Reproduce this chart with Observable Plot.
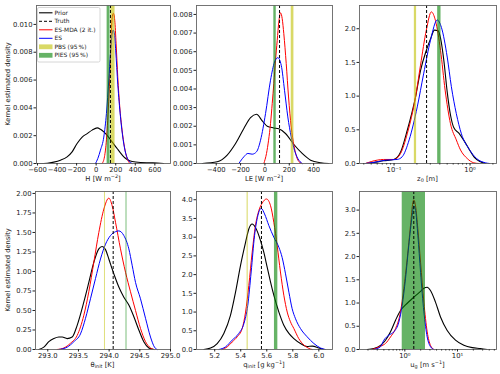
<!DOCTYPE html>
<html><head><meta charset="utf-8">
<script src="https://cdn.jsdelivr.net/npm/d3@7"></script>
<script src="https://cdn.jsdelivr.net/npm/@observablehq/plot@0.6"></script>
<style>
body{margin:0;background:#fff;}
#fig{position:relative;width:500px;height:374px;font-family:"DejaVu Sans",sans-serif;color:#222;overflow:hidden;background:#fff;}
.pan{position:absolute;}
.xl{position:absolute;font-size:6.8px;white-space:nowrap;transform:translate(-50%,-50%);line-height:1;}
.yl{position:absolute;font-size:6.7px;white-space:nowrap;transform:translate(-50%,-50%) rotate(-90deg);line-height:1;}
sup{font-size:72%;vertical-align:0;position:relative;top:-0.45em;}
sub{font-size:72%;vertical-align:0;position:relative;top:0.3em;}
</style></head><body><div id="fig"></div>
<script>
// ---------- DATA ----------
// Panel H [W m-2]
const hPrior = [[-587,0],[-501,0.00002],[-433,0.0001],[-365,0.00024],[-297,0.00048],[-246,0.00084],[-195,0.00144],[-143,0.0019],[-92,0.00215],[-41,0.0024],[10,0.00256],[44,0.00246],[78,0.00227],[112,0.00203],[146,0.00172],[180,0.00139],[214,0.00108],[248,0.00077],[283,0.00048],[317,0.00029],[368,0.00014],[453,0.00007],[555,0.00005],[657,0.00002],[690,0]];
const hMDA = [[61,0],[85,0.00048],[105,0.0017],[118,0.0031],[132,0.005],[146,0.0074],[156,0.0096],[166,0.0106],[176,0.0108],[190,0.0103],[204,0.0086],[221,0.0062],[241,0.0041],[265,0.0024],[289,0.0012],[317,0.00036],[344,0]];
const hES = [[-7,0],[17,0.00036],[44,0.00096],[78,0.0019],[105,0.0036],[129,0.006],[146,0.0079],[160,0.0091],[173,0.0096],[187,0.0093],[200,0.0081],[221,0.0057],[248,0.0034],[276,0.0017],[303,0.0007],[334,0.0002],[368,0]];
const hTruth = 146;
const hPBS = [149,193];
const hPIES = [112,142];
const hTicksX = [-600,-400,-200,0,200,400,600];
const hTicksY = [0,0.002,0.004,0.006,0.008,0.010];

// Panel LE [W m-2]
const lePrior = [[-515,0],[-392,0.00009],[-310,0.00045],[-241,0.00107],[-173,0.00188],[-118,0.00246],[-69,0.00264],[-22,0.00229],[19,0.002],[73,0.00191],[114,0.00186],[169,0.00161],[238,0.00102],[306,0.00054],[375,0.00018],[457,0.00004],[525,0]];
const leMDA = [[-9,0],[13,0.00054],[30,0.00125],[46,0.00214],[60,0.00322],[73,0.00429],[87,0.00554],[101,0.00661],[114,0.00759],[128,0.00809],[142,0.00777],[155,0.00697],[175,0.00536],[194,0.00357],[216,0.00196],[238,0.00098],[260,0.00036],[287,0.00005],[306,0]];
const leES = [[-214,0],[-173,0.00036],[-140,0.00054],[-105,0.0005],[-69,0.00063],[-36,0.00125],[5,0.00268],[46,0.00447],[79,0.00545],[106,0.00568],[134,0.00527],[161,0.00393],[188,0.0025],[216,0.00143],[243,0.00071],[270,0.00027],[306,0]];
const leTruth = 120;
const lePBS = [216,238];
const lePIES = [73,93];
const leTicksX = [-400,-200,0,200,400];
const leTicksY = [0,0.001,0.002,0.003,0.004,0.005,0.006,0.007,0.008];

// Panel z0 [m] (log x)
const z0Prior = [[0.042,0],[0.054,0.015],[0.073,0.04],[0.0995,0.06],[0.122,0.17],[0.149,0.49],[0.192,0.99],[0.223,1.38],[0.266,1.68],[0.302,1.85],[0.34,1.98],[0.38,1.97],[0.409,1.86],[0.452,1.53],[0.501,1.06],[0.553,0.72],[0.613,0.53],[0.713,0.45],[0.821,0.35],[0.964,0.22],[1.14,0.09],[1.37,0.025],[1.6,0]];
const z0MDA = [[0.042,0],[0.06,0.05],[0.073,0.06],[0.0995,0.06],[0.122,0.15],[0.149,0.44],[0.192,0.99],[0.223,1.46],[0.266,1.98],[0.31,2.25],[0.351,2.12],[0.409,1.68],[0.47,1.09],[0.553,0.59],[0.66,0.35],[0.75,0.2],[0.918,0.074],[1.12,0.01],[1.3,0]];
const z0ES = [[0.042,0],[0.06,0.025],[0.077,0.05],[0.11,0.06],[0.128,0.1],[0.158,0.35],[0.202,0.84],[0.245,1.33],[0.302,1.83],[0.37,2.13],[0.42,2.02],[0.501,1.58],[0.568,1.14],[0.66,0.74],[0.77,0.44],[0.964,0.22],[1.22,0.074],[1.6,0.01],[1.8,0]];
const z0Truth = 0.268;
const z0PBS = [0.185,0.198];
const z0PIES = [0.375,0.415];
const z0TicksX = [0.1,1];
const z0TickLabels = ["10\u207B\u00B9","10\u2070"];
const z0MinorX = [0.04,0.05,0.06,0.07,0.08,0.09,0.2,0.3,0.4,0.5,0.6,0.7,0.8,0.9,2];
const z0TicksY = [0,0.5,1,1.5,2];

// Panel theta_init [K]
const thPrior = [[292.854,0],[292.936,0.03],[293.017,0.1],[293.099,0.14],[293.18,0.16],[293.235,0.16],[293.316,0.14],[293.398,0.16],[293.479,0.31],[293.588,0.61],[293.669,0.86],[293.751,1.12],[293.832,1.29],[293.886,1.32],[293.941,1.28],[293.995,1.16],[294.05,1.03],[294.104,0.91],[294.158,0.8],[294.24,0.67],[294.321,0.57],[294.403,0.42],[294.484,0.25],[294.565,0.1],[294.647,0.02],[294.728,0]];
const thMDA = [[293.153,0],[293.262,0.02],[293.37,0.08],[293.479,0.18],[293.588,0.44],[293.669,0.74],[293.751,1.12],[293.832,1.5],[293.914,1.8],[293.995,1.94],[294.05,1.84],[294.104,1.63],[294.185,1.29],[294.267,0.99],[294.348,0.74],[294.43,0.5],[294.511,0.27],[294.593,0.1],[294.674,0.02],[294.728,0]];
const thES = [[293.18,0],[293.316,0.03],[293.425,0.1],[293.533,0.2],[293.615,0.4],[293.696,0.65],[293.778,0.91],[293.859,1.16],[293.941,1.35],[294.022,1.46],[294.104,1.51],[294.158,1.52],[294.24,1.46],[294.321,1.29],[294.375,1.08],[294.43,0.86],[294.511,0.65],[294.593,0.4],[294.674,0.16],[294.739,0.03],[294.783,0]];
const thTruth = 294.066;
const thPBS = [293.924,293.938];
const thPIES = [294.276,294.29];
const thTicksX = [293.0,293.5,294.0,294.5,295.0];
const thTicksY = [0,0.25,0.5,0.75,1,1.25,1.5,1.75,2];

// Panel q_init [g kg-1]
const qPrior = [[5.116,0],[5.168,0.04],[5.219,0.16],[5.27,0.43],[5.321,0.91],[5.36,1.53],[5.398,2.24],[5.437,2.86],[5.462,3.22],[5.488,3.35],[5.513,3.26],[5.552,2.91],[5.577,2.6],[5.603,2.2],[5.629,1.8],[5.654,1.45],[5.693,1.0],[5.731,0.65],[5.77,0.43],[5.808,0.29],[5.859,0.16],[5.91,0.08],[5.95,0.09],[6.0,0.04],[6.038,0]];
const qMDA = [[5.257,0],[5.296,0.07],[5.334,0.2],[5.373,0.34],[5.411,0.56],[5.437,1.0],[5.462,1.71],[5.488,2.6],[5.513,3.31],[5.539,3.71],[5.565,3.91],[5.598,4.02],[5.629,3.84],[5.654,3.4],[5.68,2.77],[5.705,2.07],[5.731,1.45],[5.757,1.0],[5.782,0.74],[5.808,0.56],[5.846,0.29],[5.885,0.12],[5.923,0.03],[5.949,0]];
const qES = [[5.232,0],[5.283,0.07],[5.334,0.25],[5.385,0.43],[5.424,0.69],[5.454,1.18],[5.48,2.07],[5.506,3.04],[5.531,3.57],[5.557,3.77],[5.583,3.62],[5.616,3.31],[5.654,3.0],[5.693,2.73],[5.718,2.46],[5.744,2.02],[5.77,1.53],[5.795,1.09],[5.821,0.82],[5.859,0.56],[5.91,0.34],[5.962,0.16],[6.013,0.04],[6.051,0]];
const qTruth = 5.559;
const qPBS = [5.449,5.457];
const qPIES = [5.659,5.685];
const qTicksX = [5.2,5.4,5.6,5.8,6.0];
const qTicksY = [0,0.5,1,1.5,2,2.5,3,3.5,4];

// Panel u_g [m s-1] (log x)
const ugPrior = [[0.193,0],[0.258,0.02],[0.346,0.09],[0.43,0.2],[0.535,0.38],[0.667,0.63],[0.828,0.84],[1.03,0.96],[1.28,1.06],[1.6,1.16],[1.99,1.25],[2.3,1.32],[2.66,1.34],[3.07,1.27],[3.82,1.02],[4.76,0.7],[6.38,0.41],[9.16,0.2],[13.2,0.09],[19.0,0.04],[27.3,0.02],[36.6,0]];
const ugMDA = [[0.24,0],[0.346,0.07],[0.43,0.13],[0.535,0.27],[0.667,0.45],[0.828,0.81],[0.957,1.31],[1.11,1.95],[1.28,2.66],[1.42,3.16],[1.48,3.22],[1.6,3.09],[1.77,2.59],[1.99,1.88],[2.3,1.02],[2.66,0.38],[3.07,0.09],[3.56,0]];
const ugES = [[0.258,0],[0.346,0.06],[0.4,0.2],[0.498,0.31],[0.619,0.38],[0.77,0.59],[0.891,0.95],[1.03,1.52],[1.19,2.24],[1.38,2.88],[1.48,3.09],[1.6,2.99],[1.77,2.45],[1.99,1.66],[2.3,0.81],[2.66,0.27],[3.07,0.06],[3.56,0]];
const ugTruth = 1.48;
const ugPBS = null;
const ugPIES = [0.893,2.47];
const ugTicksX = [1,10];
const ugTickLabels = ["10\u2070","10\u00B9"];
const ugMinorX = [0.2,0.3,0.4,0.5,0.6,0.7,0.8,0.9,2,3,4,5,6,7,8,9,20,30,40,50];
const ugTicksY = [0,0.5,1,1.5,2,2.5,3];

const legendLabels = ["Prior","Truth","ES-MDA (2 it.)","ES","PBS (95\u2009%)","PIES (95\u2009%)"];
const yAxisTitle = "Kernel estimated density";

// ---------- LAYOUT ----------
const fmtLog = (vals, labels) => d => labels[vals.indexOf(d)] ?? "";
const panels = [
  {frame:[36,5,170,163], xType:"linear", xDomain:[-610,760], yDomain:[0,0.01136], xTicks:hTicksX, xFmt:d3.format("d"), yTicks:hTicksY, yFmt:d3.format(".3f"), prior:hPrior, mda:hMDA, es:hES, truth:hTruth, pbs:hPBS, pies:hPIES, label:"H [W m<sup>\u22122</sup>]"},
  {frame:[196,5,332,163], xType:"linear", xDomain:[-562,555], yDomain:[0,0.00848], xTicks:leTicksX, xFmt:d3.format("d"), yTicks:leTicksY, yFmt:d3.format(".3f"), prior:lePrior, mda:leMDA, es:leES, truth:leTruth, pbs:lePBS, pies:lePIES, label:"LE [W m<sup>\u22122</sup>]"},
  {frame:[359,5,496,163], xType:"log", xDomain:[0.0351,2.23], yDomain:[0,2.345], xTicks:z0TicksX, xFmt:fmtLog(z0TicksX,z0TickLabels), minor:z0MinorX, yTicks:z0TicksY, yFmt:d3.format(".1f"), prior:z0Prior, mda:z0MDA, es:z0ES, truth:z0Truth, pbs:z0PBS, pies:z0PIES, label:"z<sub>0</sub> [m]"},
  {frame:[35,191,170,349], xType:"linear", xDomain:[292.8,295.0], yDomain:[0,2.025], xTicks:thTicksX, xFmt:d3.format(".1f"), yTicks:thTicksY, yFmt:d3.format(".2f"), prior:thPrior, mda:thMDA, es:thES, truth:thTruth, pbs:thPBS, pies:thPIES, label:"\u03B8<sub>init</sub> [K]"},
  {frame:[196,191,332,349], xType:"linear", xDomain:[5.06,6.105], yDomain:[0,4.22], xTicks:qTicksX, xFmt:d3.format(".1f"), yTicks:qTicksY, yFmt:d3.format(".1f"), prior:qPrior, mda:qMDA, es:qES, truth:qTruth, pbs:qPBS, pies:qPIES, label:"q<sub>init</sub> [g kg<sup>\u22121</sup>]"},
  {frame:[359,191,496,349], xType:"log", xDomain:[0.138,55], yDomain:[0,3.4], xTicks:ugTicksX, xFmt:fmtLog(ugTicksX,ugTickLabels), minor:ugMinorX, yTicks:ugTicksY, yFmt:d3.format(".1f"), prior:ugPrior, mda:ugMDA, es:ugES, truth:ugTruth, pbs:ugPBS, pies:ugPIES, label:"u<sub>g</sub> [m s<sup>\u22121</sup>]"}
];

const fig = document.getElementById("fig");
const mL = 32, mR = 4, mT = 4, mB = 16;
const X = d => d[0], Y = d => d[1];

for (const p of panels) {
  const [fx0, fy0, fx1, fy1] = p.frame;
  const W = fx1 - fx0, H = fy1 - fy0;
  const marks = [
    Plot.line(p.prior, {x: X, y: Y, stroke: "black", strokeWidth: 1.1, curve: "monotone-x"}),
    Plot.line(p.mda, {x: X, y: Y, stroke: "red", strokeWidth: 1, curve: "monotone-x"}),
    Plot.line(p.es, {x: X, y: Y, stroke: "blue", strokeWidth: 1, curve: "monotone-x"})
  ];
  if (p.pbs) marks.push(Plot.rect([p.pbs], {x1: X, x2: Y, fill: "#bfbf00", fillOpacity: 0.6}));
  if (p.pies) marks.push(Plot.rect([p.pies], {x1: X, x2: Y, fill: "#008000", fillOpacity: 0.6}));
  marks.push(Plot.ruleX([p.truth], {stroke: "black", strokeWidth: 1, strokeDasharray: "3,2"}));
  marks.push(Plot.frame({stroke: "#666", strokeWidth: 0.9}));
  if (p.minor) marks.push(Plot.axisX({ticks: p.minor, tickSize: 1.5, tickFormat: () => "", label: null, color: "#333"}));
  marks.push(Plot.axisX({ticks: p.xTicks, tickSize: 2.5, tickPadding: 1.5, tickFormat: p.xFmt, label: null, color: "#222"}));
  marks.push(Plot.axisY({ticks: p.yTicks, tickSize: 2.5, tickPadding: 1.5, tickFormat: p.yFmt, label: null, color: "#222"}));
  const svg = Plot.plot({
    width: W + mL + mR, height: H + mT + mB,
    marginLeft: mL, marginRight: mR, marginTop: mT, marginBottom: mB,
    x: {type: p.xType, domain: p.xDomain},
    y: {domain: p.yDomain},
    style: {background: "transparent", fontSize: "6.8px", fontFamily: "'DejaVu Sans', sans-serif", overflow: "visible", color: "#222"},
    marks
  });
  const div = document.createElement("div");
  div.className = "pan";
  div.style.left = (fx0 - mL) + "px";
  div.style.top = (fy0 - mT) + "px";
  div.appendChild(svg);
  fig.appendChild(div);
  const xl = document.createElement("div");
  xl.className = "xl";
  xl.innerHTML = p.label;
  xl.style.left = ((fx0 + fx1) / 2) + "px";
  xl.style.top = (fy1 + 15.5) + "px";
  fig.appendChild(xl);
}
for (const p of [panels[0], panels[3]]) {
  const yl = document.createElement("div");
  yl.className = "yl";
  yl.textContent = yAxisTitle;
  yl.style.left = "7.5px";
  yl.style.top = ((p.frame[1] + p.frame[3]) / 2) + "px";
  fig.appendChild(yl);
}

// ---------- LEGEND (panel 1, upper left) ----------
const lg = d3.select(fig).append("svg")
  .attr("width", 64).attr("height", 56)
  .style("position", "absolute").style("left", "36.5px").style("top", "6.5px")
  .style("font-family", "'DejaVu Sans', sans-serif").style("font-size", "5.9px");
lg.append("rect").attr("x", 0.5).attr("y", 0.5).attr("width", 62.5).attr("height", 54.5).attr("rx", 1.5)
  .attr("fill", "white").attr("fill-opacity", 0.8).attr("stroke", "#ccc").attr("stroke-width", 0.8);
const handles = [
  {type: "line", color: "black", dash: null, w: 1.1},
  {type: "line", color: "black", dash: "3,2", w: 1},
  {type: "line", color: "red", dash: null, w: 1},
  {type: "line", color: "blue", dash: null, w: 1},
  {type: "patch", color: "#bfbf00"},
  {type: "patch", color: "#008000"}
];
legendLabels.forEach((lab, i) => {
  const cy = 5.8 + i * 8.5;
  const h = handles[i];
  if (h.type === "line") {
    lg.append("line").attr("x1", 2).attr("x2", 15.5).attr("y1", cy).attr("y2", cy)
      .attr("stroke", h.color).attr("stroke-width", h.w).attr("stroke-dasharray", h.dash);
  } else {
    lg.append("rect").attr("x", 2).attr("y", cy - 2.4).attr("width", 13.5).attr("height", 4.8)
      .attr("fill", h.color).attr("fill-opacity", 0.6);
  }
  lg.append("text").attr("x", 17.5).attr("y", cy).attr("dy", "0.35em").attr("fill", "#222").text(lab);
});
</script></body></html>
